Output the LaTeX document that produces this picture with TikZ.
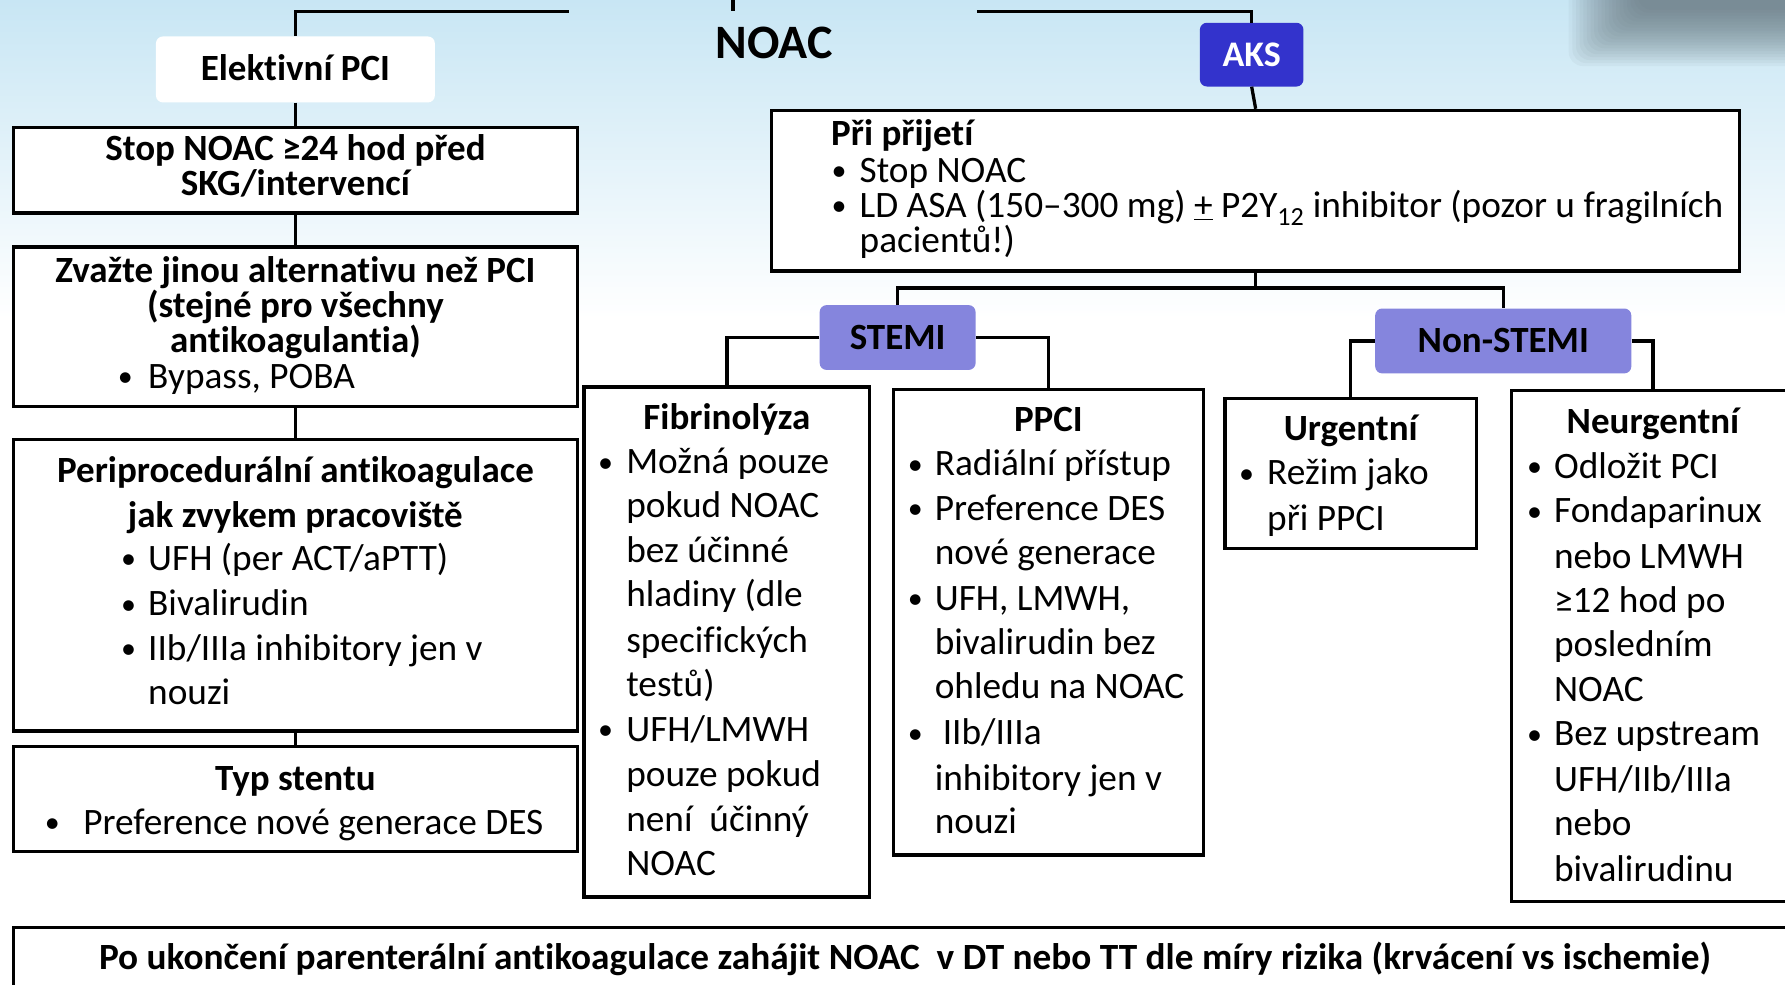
\documentclass[tikz,border=0pt]{standalone}
\usepackage{fontspec}
\setmainfont{Carlito}[Ligatures={NoCommon}]
\usetikzlibrary{fit}
\definecolor{bgblue}{RGB}{200,230,244}
\definecolor{aksblue}{RGB}{51,51,204}
\definecolor{stemic}{RGB}{133,133,221}
\definecolor{shadowc}{RGB}{95,110,118}
\newcommand\ltxt[3]{\node[txt,anchor=base west] at (#1,#2) {#3};}
\newcommand\lbul[2]{\node[txt,anchor=base] at (#1,#2) {\raisebox{1.5pt}{\fontsize{30}{30}\selectfont •}};}
\newcommand\ctxt[3]{\node[txtb,anchor=base] at (#1,#2) {#3};}
\begin{document}
\begin{tikzpicture}[x=1.1384pt,y=-1.1384pt,
  box/.style={draw=black, line width=3.3pt, fill=white, inner sep=0pt},
  conn/.style={draw=black, line width=3.3pt},
  pill/.style={inner sep=0pt, rounded corners=7pt},
  txt/.style={inner sep=0pt, font=\fontsize{37.3}{44}\selectfont},
  txtb/.style={inner sep=0pt, font=\fontsize{37}{44}\selectfont\bfseries},
]
\useasboundingbox (0,0) rectangle (1568,865);
\clip (0,0) rectangle (1568,865);
% background
\fill[white] (0,0) rectangle (1568,865);
\shade[top color=bgblue, bottom color=white] (0,0) rectangle (1568,280);
\foreach \i in {0,...,19}
  \fill[shadowc, opacity=0.06, rounded corners=14pt] ({1378+3.2*\i},-40) rectangle (1620,{58-2.6*\i});
% title remnants
\draw[line width=4pt] (644,-3) -- (644,10);
\node[inner sep=0pt, anchor=base, font=\fontsize{48}{52}\selectfont\bfseries] (noac) at (680,51) {NOAC};

% nodes
\node[pill, fill=white, fit={(137,32) (382,90)}] (elek) {};
\node[box, fit={(12,112) (507,187)}] (b1) {};
\node[box, fit={(12,217) (507,357)}] (b2) {};
\node[box, fit={(12,386) (507,642)}] (b3) {};
\node[box, fit={(12,656) (507,748)}] (b4) {};
\node[pill, fill=aksblue, fit={(1054,20) (1145,76)}] (aks) {};
\node[box, fit={(678,97) (1528,238)}] (prij) {};
\node[pill, fill=stemic, fit={(720,268) (857,325)}] (stemi) {};
\node[pill, fill=stemic, fit={(1208,271) (1433,328)}] (nstemi) {};
\node[box, fit={(513,340) (764,788)}] (fib) {};
\node[box, fit={(785,342) (1057,751)}] (ppci) {};
\node[box, fit={(1076,350) (1297,482)}] (urg) {};
\node[box, fit={(1328,343) (1576,792)}] (neur) {};
\node[box, fit={(12,815) (1578,905)}] (bottom) {};

% connectors
\coordinate (tl) at (500,10);
\coordinate (tr) at (858,10);
\coordinate (jn) at (1103,253);
\draw[conn] (elek.north) |- (tl);
\draw[conn] (tr) -| (aks.north);
\draw[conn] (aks.south) -- (prij.north);
\draw[conn] (elek.south) -- (b1.north);
\draw[conn] (b1.south) -- (b2.north);
\draw[conn] (b2.south) -- (b3.north);
\draw[conn] (b3.south) -- (b4.north);
\draw[conn] (prij.south) -- (jn);
\draw[conn] (stemi.north) |- (jn) -| (nstemi.north);
\draw[conn] (stemi.west) -| (fib.north);
\draw[conn] (stemi.east) -| (ppci.north);
\draw[conn] (nstemi.west) -| (urg.north);
\draw[conn] (nstemi.east) -| (neur.north);

% texts
\ctxt{259.5}{71}{Elektivní PCI}
\node[txtb, anchor=base, text=white, font=\fontsize{36}{40}\selectfont\bfseries] at (1099.5,58) {AKS};

\ctxt{259.5}{141}{Stop NOAC ≥24 hod před}
\ctxt{259.5}{172}{SKG/intervencí}

\ctxt{259.5}{248}{Zvažte jinou alternativu než PCI}
\ctxt{259.5}{279}{(stejné pro všechny}
\ctxt{259.5}{310}{antikoagulantia)}
\lbul{110}{341}\ltxt{130}{341}{Bypass, POBA}

\ctxt{259.5}{424}{Periprocedurální antikoagulace}
\ctxt{259.5}{463}{jak zvykem pracoviště}
\lbul{113}{501}\ltxt{130}{501}{UFH (per ACT/aPTT)}
\lbul{113}{541}\ltxt{130}{541}{Bivalirudin}
\lbul{113}{580}\ltxt{130}{580}{IIb/IIIa inhibitory jen v}
\ltxt{130}{619}{nouzi}

\ctxt{259.5}{694}{Typ stentu}
\lbul{46}{733}\ltxt{73}{733}{Preference nové generace DES}

\node[txtb, anchor=base west] at (730,128) {Při přijetí};
\lbul{737}{160}\ltxt{755}{160}{Stop NOAC}
\lbul{737}{191}\ltxt{755}{191}{LD ASA (150–300 mg) \underline{+} P2Y\textsubscript{12} inhibitor (pozor u fragilních}
\ltxt{755}{222}{pacientů!)}

\ctxt{788.5}{307}{STEMI}
\ctxt{1320.5}{310}{Non-STEMI}

\ctxt{638.5}{377}{Fibrinolýza}
\lbul{532}{416}\ltxt{550}{416}{Možná pouze}
\ltxt{550}{455}{pokud NOAC}
\ltxt{550}{494}{bez účinné}
\ltxt{550}{533}{hladiny (dle}
\ltxt{550}{573}{specifických}
\ltxt{550}{612}{testů)}
\lbul{532}{651}\ltxt{550}{651}{UFH/LMWH}
\ltxt{550}{691}{pouze pokud}
\ltxt{550}{730}{není\ \ účinný}
\ltxt{550}{769}{NOAC}

\ctxt{921}{379}{PPCI}
\lbul{804}{418}\ltxt{821}{418}{Radiální přístup}
\lbul{804}{457}\ltxt{821}{457}{Preference DES}
\ltxt{821}{496}{nové generace}
\lbul{804}{536}\ltxt{821}{536}{UFH, LMWH,}
\ltxt{821}{575}{bivalirudin bez}
\ltxt{821}{614}{ohledu na NOAC}
\lbul{804}{654}\ltxt{828}{654}{IIb/IIIa}
\ltxt{821}{694}{inhibitory jen v}
\ltxt{821}{732}{nouzi}

\ctxt{1186.5}{387}{Urgentní}
\lbul{1095}{426}\ltxt{1113}{426}{Režim jako}
\ltxt{1113}{466}{při PPCI}

\ctxt{1452}{381}{Neurgentní}
\lbul{1348}{420}\ltxt{1365}{420}{Odložit PCI}
\lbul{1348}{459}\ltxt{1365}{459}{Fondaparinux}
\ltxt{1365}{499}{nebo LMWH}
\ltxt{1365}{538}{≥12 hod po}
\ltxt{1365}{577}{posledním}
\ltxt{1365}{616}{NOAC}
\lbul{1348}{655}\ltxt{1365}{655}{Bez upstream}
\ltxt{1365}{695}{UFH/IIb/IIIa}
\ltxt{1365}{734}{nebo}
\ltxt{1365}{774}{bivalirudinu}

\ctxt{795}{852}{\resizebox{1612pt}{\height}{Po ukončení parenterální antikoagulace zahájit NOAC\ \ v DT nebo TT dle míry rizika (krvácení vs ischemie)}}
\end{tikzpicture}
\end{document}
